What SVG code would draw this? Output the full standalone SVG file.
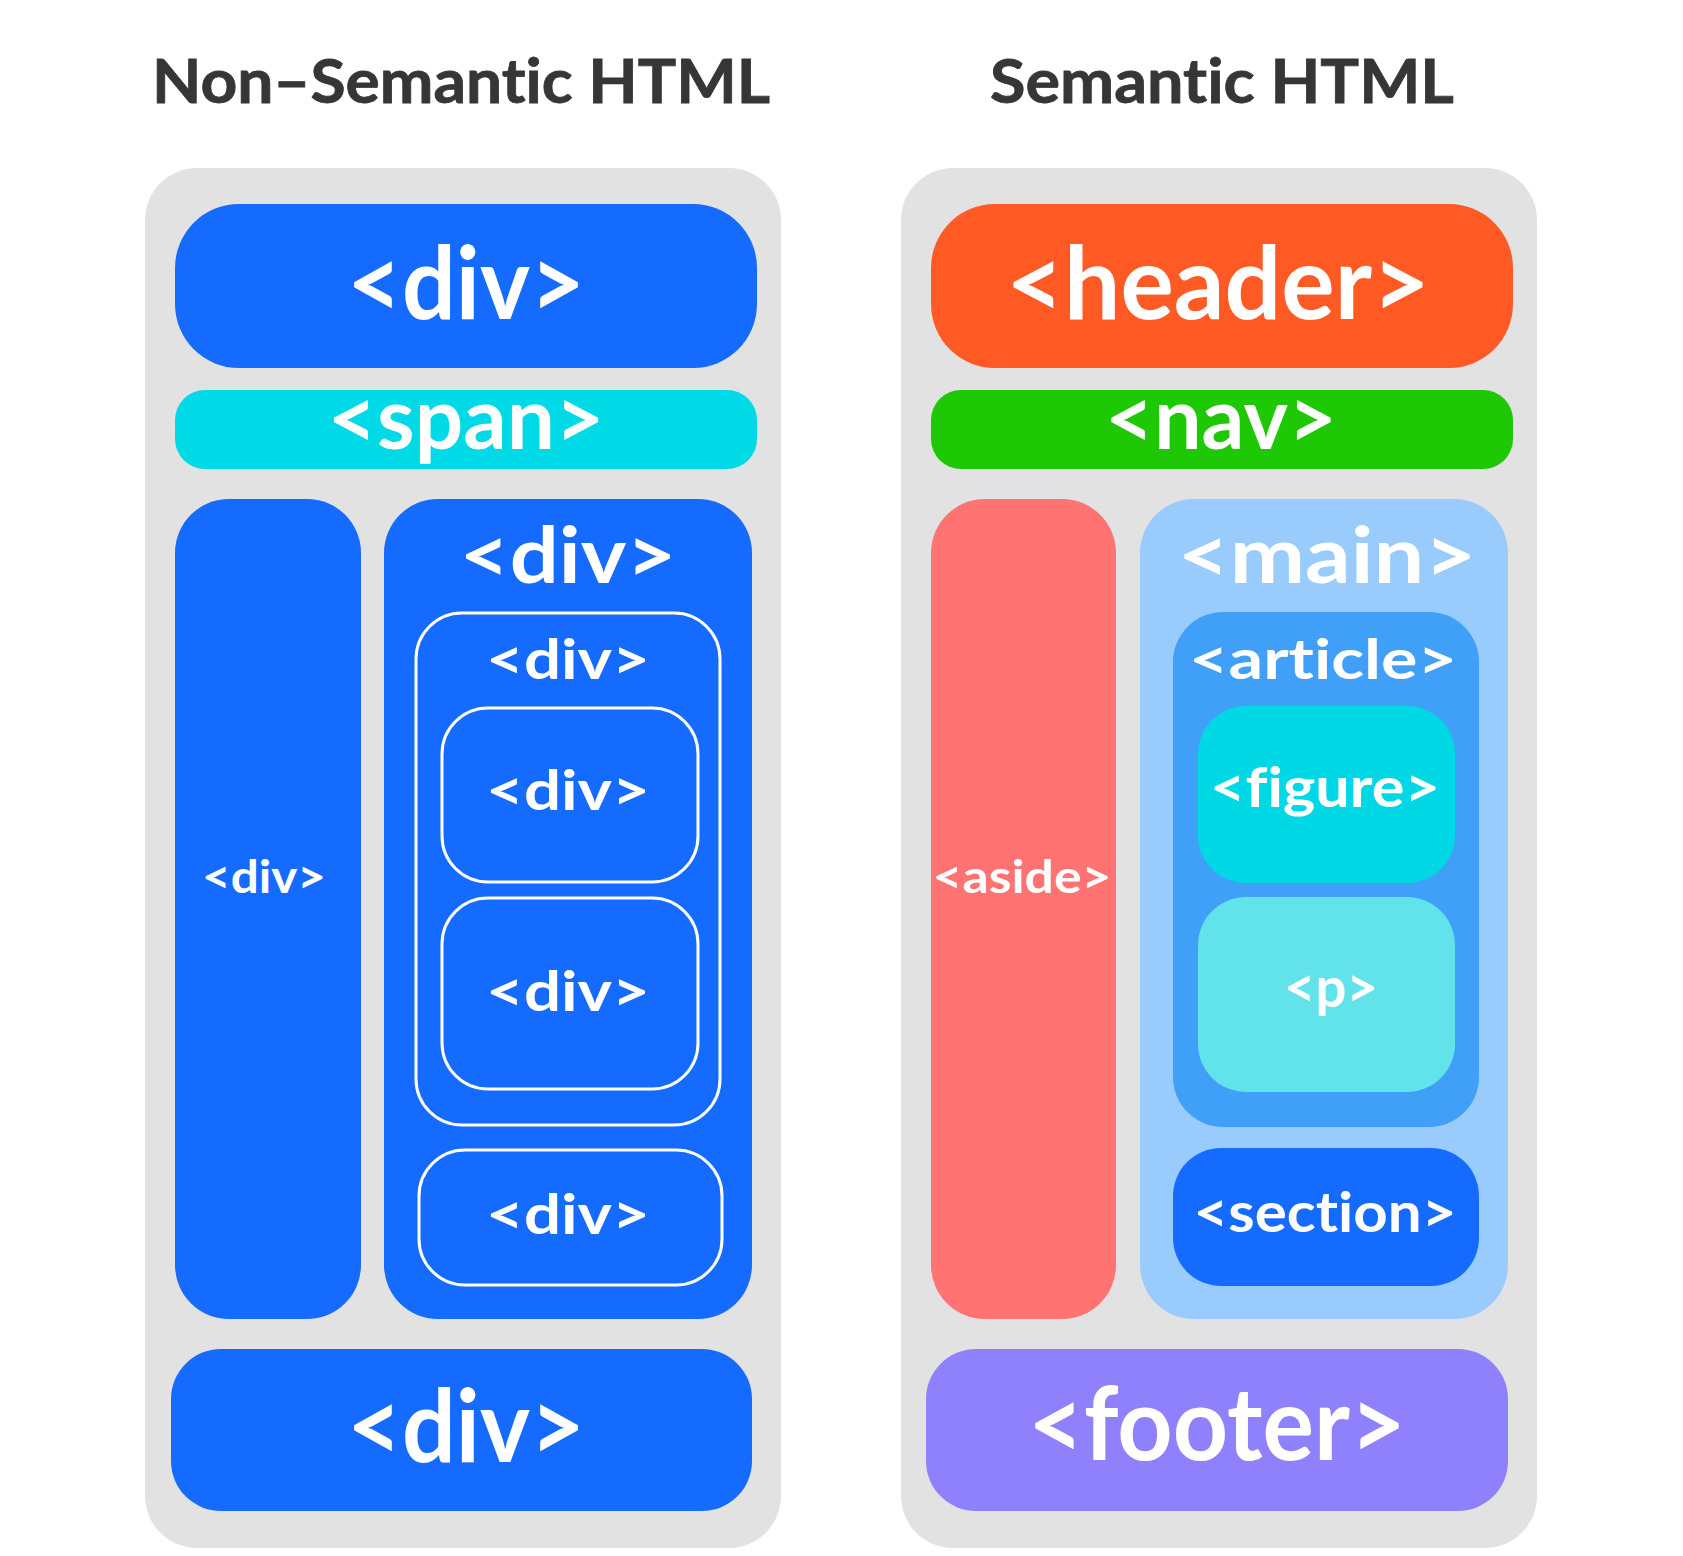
<svg xmlns="http://www.w3.org/2000/svg" width="1683" height="1556" viewBox="0 0 1683 1556">
<style>
text{font-variant-ligatures:none;font-feature-settings:"liga" 0,"clig" 0,"dlig" 0}
.t{font-family:Lato,"Open Sans","Liberation Sans",sans-serif;font-weight:700;fill:#fff;text-anchor:middle}
.title{font-family:Lato,"Open Sans","Liberation Sans",sans-serif;font-weight:700;fill:#363636;text-anchor:middle;font-size:62px;stroke:#363636;stroke-width:0.8}
.panel{fill:#E2E2E2}
.blue{fill:#166BFF}
.outl{fill:none;stroke:#fff;stroke-width:3}
</style>
<rect width="1683" height="1556" fill="#fff"/>
<text class="title" x="461" y="103" textLength="618" lengthAdjust="spacingAndGlyphs">Non–Semantic HTML</text>
<text class="title" x="1222" y="103" textLength="464" lengthAdjust="spacingAndGlyphs">Semantic HTML</text>

<g id="panel-left">
<rect class="panel" x="145" y="168" width="636" height="1380" rx="52"/>
</g>
<g id="panel-right">
<rect class="panel" x="901" y="168" width="636" height="1380" rx="52"/>
</g>

<g id="div-top"><rect class="blue" x="175" y="204" width="582" height="164" rx="64"/>
<text class="t" x="466" y="319" font-size="102" textLength="238" lengthAdjust="spacingAndGlyphs">&lt;div&gt;</text></g>
<g id="span"><rect x="175" y="390" width="582" height="79" rx="30" fill="#00D9E6"/>
<text class="t" x="466" y="449" font-size="86" textLength="277" lengthAdjust="spacingAndGlyphs">&lt;span&gt;</text></g>
<g id="div-left-col"><rect class="blue" x="175" y="499" width="186" height="820" rx="54"/>
<text class="t" x="264" y="893" font-size="46" textLength="124" lengthAdjust="spacingAndGlyphs">&lt;div&gt;</text></g>
<g id="div-right-col"><rect class="blue" x="384" y="499" width="368" height="820" rx="54"/>
<text class="t" x="568" y="583" font-size="78" textLength="217" lengthAdjust="spacingAndGlyphs">&lt;div&gt;</text></g>
<g id="div-outline"><rect class="outl" x="416" y="613" width="304" height="512" rx="46"/>
<text class="t" x="568" y="679" font-size="56" textLength="164" lengthAdjust="spacingAndGlyphs">&lt;div&gt;</text></g>
<g id="div-inner-1"><rect class="outl" x="442" y="708" width="256" height="174" rx="46"/>
<text class="t" x="568" y="810" font-size="56" textLength="164" lengthAdjust="spacingAndGlyphs">&lt;div&gt;</text></g>
<g id="div-inner-2"><rect class="outl" x="442" y="898" width="256" height="191" rx="46"/>
<text class="t" x="568" y="1011" font-size="56" textLength="164" lengthAdjust="spacingAndGlyphs">&lt;div&gt;</text></g>
<g id="div-inner-3"><rect class="outl" x="419" y="1150" width="303" height="135" rx="46"/>
<text class="t" x="568" y="1234" font-size="56" textLength="164" lengthAdjust="spacingAndGlyphs">&lt;div&gt;</text></g>
<g id="div-bottom"><rect class="blue" x="171" y="1349" width="581" height="162" rx="50"/>
<text class="t" x="466" y="1462" font-size="102" textLength="238" lengthAdjust="spacingAndGlyphs">&lt;div&gt;</text></g>

<g id="header"><rect x="931" y="204" width="582" height="164" rx="64" fill="#FF5A24"/>
<text class="t" x="1218" y="319" font-size="102" textLength="424" lengthAdjust="spacingAndGlyphs">&lt;header&gt;</text></g>
<g id="nav"><rect x="931" y="390" width="582" height="79" rx="30" fill="#1EC805"/>
<text class="t" x="1221" y="449" font-size="86" textLength="232" lengthAdjust="spacingAndGlyphs">&lt;nav&gt;</text></g>
<g id="aside"><rect x="931" y="499" width="185" height="820" rx="54" fill="#FF7373"/>
<text class="t" x="1022" y="893" font-size="46" textLength="179" lengthAdjust="spacingAndGlyphs">&lt;aside&gt;</text></g>
<g id="main"><rect x="1140" y="499" width="368" height="820" rx="54" fill="#99CCFD"/>
<text class="t" x="1327" y="583" font-size="78" textLength="299" lengthAdjust="spacingAndGlyphs">&lt;main&gt;</text></g>
<g id="article"><rect x="1173" y="612" width="306" height="515" rx="50" fill="#40A0F8"/>
<text class="t" x="1323" y="679" font-size="56" textLength="268" lengthAdjust="spacingAndGlyphs">&lt;article&gt;</text></g>
<g id="figure"><rect x="1198" y="706" width="257" height="177" rx="48" fill="#00D8E6"/>
<text class="t" x="1325" y="807" font-size="56" textLength="230" lengthAdjust="spacingAndGlyphs">&lt;figure&gt;</text></g>
<g id="p"><rect x="1198" y="897" width="257" height="195" rx="48" fill="#62E2EA"/>
<text class="t" x="1331" y="1007" font-size="56" textLength="94" lengthAdjust="spacingAndGlyphs">&lt;p&gt;</text></g>
<g id="section"><rect x="1173" y="1148" width="306" height="138" rx="48" fill="#166BFF"/>
<text class="t" x="1325" y="1232" font-size="56" textLength="263" lengthAdjust="spacingAndGlyphs">&lt;section&gt;</text></g>
<g id="footer"><rect x="926" y="1349" width="582" height="162" rx="50" fill="#8F80FC"/>
<text class="t" x="1217" y="1460" font-size="102" textLength="378" lengthAdjust="spacingAndGlyphs">&lt;footer&gt;</text></g>

<g id="connectors"></g>
</svg>
